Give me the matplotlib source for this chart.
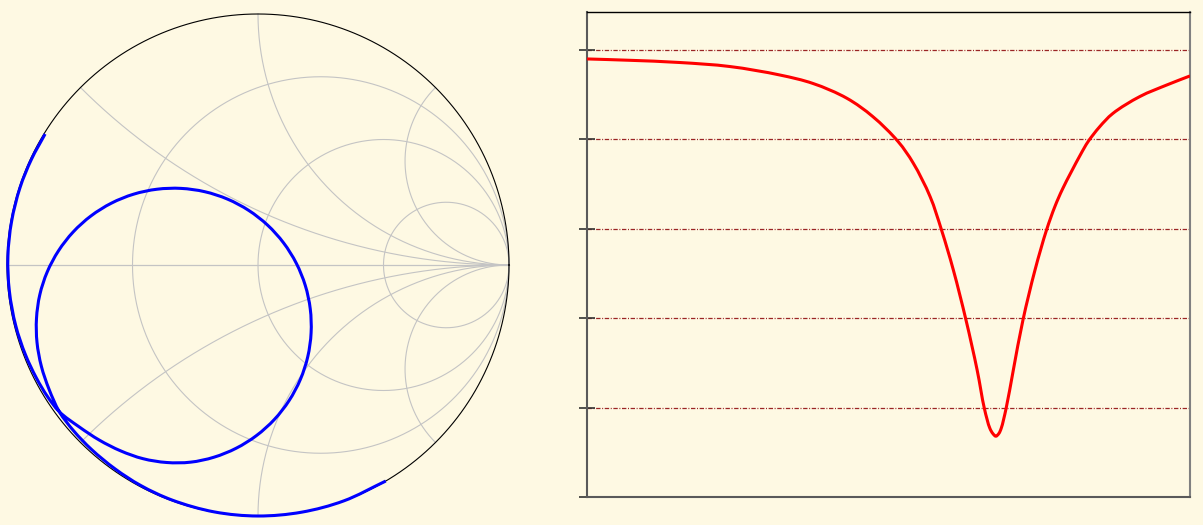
import numpy as np
import matplotlib
matplotlib.use("Agg")
import matplotlib.pyplot as plt
from matplotlib.path import Path
from matplotlib.patches import PathPatch

# ---------------- data ----------------
# Smith-chart grid values (normalised resistance / reactance)
resistance_circles = [1/3, 1.0, 3.0]
reactance_arcs = [0.4142, 1.0, 2.4142]

gamma_re = [-0.8483, -0.9027, -0.9482, -0.9818, -0.9964, -0.9905, -0.9654, -0.9271,
            -0.8830, -0.8387,
            -0.7911, -0.7118, -0.6317, -0.5472, -0.4579, -0.3640, -0.2687, -0.1753,
            -0.0868, -0.0058, 0.0652, 0.1239, 0.1688, 0.1983, 0.2115, 0.2082,
            0.1884, 0.1526, 0.1020, 0.0381, -0.0372, -0.1215, -0.2122, -0.3068,
            -0.4023, -0.4957, -0.5842, -0.6652, -0.7362, -0.7949, -0.8398, -0.8693,
            -0.8825, -0.8804, -0.8632, -0.8325, -0.7911,
            -0.7342, -0.6624, -0.5690, -0.4671, -0.3410, -0.1734, 0.0000, 0.1736,
            0.3420, 0.5090]
gamma_im = [0.5219, 0.4209, 0.3081, 0.1731, 0.0348, -0.1041, -0.2407, -0.3559,
            -0.4499, -0.5241,
            -0.5851, -0.6454, -0.6979, -0.7405, -0.7717, -0.7868, -0.7855, -0.7657,
            -0.7299, -0.6793, -0.6154, -0.5401, -0.4558, -0.3651, -0.2705, -0.1750,
            -0.0816, 0.0069, 0.0879, 0.1589, 0.2176, 0.2625, 0.2920, 0.3052,
            0.3019, 0.2821, 0.2463, 0.1957, 0.1318, 0.0565, -0.0278, -0.1185,
            -0.2131, -0.3087, -0.4031, -0.4950, -0.5851,
            -0.6611, -0.7357, -0.8126, -0.8785, -0.9369, -0.9838, -1.0000, -0.9848,
            -0.9397, -0.8607]

# |Gamma| versus frequency (arbitrary frequency units)
freq = [0, 7.0, 15.4, 23.7, 32.0, 37.5, 43.1, 47.4, 51.6, 54.1, 56.9, 58.8, 60.75,
        62.85, 64.7, 65.9, 66.8, 67.3, 67.8, 68.3, 68.7, 69.5, 70.7, 72.3, 74.3,
        76.2, 77.6, 78.9, 81.8, 83.1, 85.0, 87.2, 91.7, 96.2, 100.0]
mag = [0.980, 0.977, 0.972, 0.963, 0.944, 0.925, 0.892, 0.851, 0.795, 0.747, 0.672,
       0.597, 0.508, 0.396, 0.284, 0.198, 0.154, 0.142, 0.136, 0.142, 0.154, 0.198,
       0.284, 0.396, 0.508, 0.597, 0.650, 0.690, 0.765, 0.795, 0.828, 0.858, 0.896,
       0.922, 0.942]
yticks = [0.0, 0.2, 0.4, 0.6, 0.8, 1.0]


def spline_path(xs, ys, sx=1.0, sy=1.0, alpha=0.5):
    """Centripetal Catmull-Rom curve through the data points, as a Bezier Path."""
    P = np.column_stack([np.asarray(xs, float) * sx, np.asarray(ys, float) * sy])
    n = len(P)
    ext = np.vstack([2 * P[0] - P[1], P, 2 * P[-1] - P[-2]])
    verts = [P[0]]
    codes = [Path.MOVETO]
    for i in range(1, n):
        p0, p1, p2, p3 = ext[i - 1], ext[i], ext[i + 1], ext[i + 2]
        d0 = max(np.linalg.norm(p1 - p0) ** alpha, 1e-9)
        d1 = max(np.linalg.norm(p2 - p1) ** alpha, 1e-9)
        d2 = max(np.linalg.norm(p3 - p2) ** alpha, 1e-9)
        t1 = d1 * ((p1 - p0) / d0 - (p2 - p0) / (d0 + d1) + (p2 - p1) / d1)
        t2 = d1 * ((p2 - p1) / d1 - (p3 - p1) / (d1 + d2) + (p3 - p2) / d2)
        verts += [p1 + t1 / 3, p2 - t2 / 3, p2]
        codes += [Path.CURVE4] * 3
    V = np.array(verts)
    V[:, 0] /= sx
    V[:, 1] /= sy
    return Path(V, codes)


# ---------------- styling ----------------
bg = "#fef9e3"
grid_gray = "#c4c4c4"

fig = plt.figure(figsize=(12.03, 5.25), dpi=100, facecolor=bg)

# ---- Smith chart ----
ax1 = fig.add_axes([7/1203, 9/525, 502/1203, 502/525])
ax1.set_xlim(-1, 1)
ax1.set_ylim(-1, 1)
ax1.axis("off")
ax1.patch.set_alpha(0)

t = np.linspace(0, 2*np.pi, 721)
for r in resistance_circles:
    c = r/(1+r); rad = 1/(1+r)
    ax1.plot(c + rad*np.cos(t), rad*np.sin(t), color=grid_gray, lw=0.8, clip_on=False)
for x in reactance_arcs:
    px = (x**2 - 1)/(x**2 + 1); py = 2*x/(x**2 + 1)
    a0 = np.arctan2(py - 1/x, px - 1) % (2*np.pi)
    a = np.linspace(a0, 1.5*np.pi, 300)
    u = 1 + np.cos(a)/x
    v = 1/x + np.sin(a)/x
    ax1.plot(u, v, color=grid_gray, lw=0.8, clip_on=False)
    ax1.plot(u, -v, color=grid_gray, lw=0.8, clip_on=False)
ax1.plot([-1, 1], [0, 0], color=grid_gray, lw=0.9, clip_on=False)
ax1.plot(np.cos(t), np.sin(t), color="black", lw=0.8, clip_on=False)
ax1.add_patch(PathPatch(spline_path(gamma_re, gamma_im), facecolor="none",
                        edgecolor="#0000ff", lw=2.2, clip_on=False,
                        capstyle="butt", joinstyle="round", zorder=3))

# ---- magnitude plot ----
ax2 = fig.add_axes([587/1203, 28/525, 603/1203, 485/525])
ax2.set_facecolor(bg)
ax2.add_patch(PathPatch(spline_path(freq, mag, sx=6.03, sy=447.0), facecolor="none",
                        edgecolor="#ff0000", lw=2.2, joinstyle="round", zorder=3))
ax2.set_xlim(0, 100)
ax2.set_ylim(0, 1.085)
ax2.set_xticks([])
ax2.set_yticks(yticks)
ax2.set_yticklabels([])
ax2.tick_params(axis="y", direction="inout", length=12, width=1.2, color="#333333")
ax2.grid(axis="y", color="#9b2525", lw=0.9, linestyle=(0, (3.5, 1.3, 0.8, 1.3)))
ax2.spines["top"].set_color("black"); ax2.spines["top"].set_linewidth(1.0)
ax2.spines["left"].set_color("#5a5a5a"); ax2.spines["left"].set_linewidth(1.5)
ax2.spines["bottom"].set_color("#5a5a5a"); ax2.spines["bottom"].set_linewidth(1.5)
ax2.spines["right"].set_color("#808080"); ax2.spines["right"].set_linewidth(1.5)

fig.savefig("out.png", dpi=100, facecolor=bg)
